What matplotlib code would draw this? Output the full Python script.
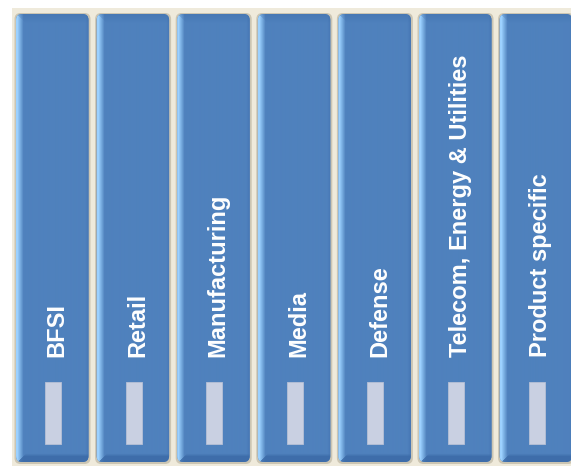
import numpy as np
import matplotlib
matplotlib.use('Agg')
import matplotlib.pyplot as plt
from matplotlib import font_manager
from matplotlib.font_manager import FontProperties
from matplotlib.patches import FancyBboxPatch, Rectangle

# segments shown on the panels, left to right
labels = ['BFSI', 'Retail', 'Manufacturing', 'Media', 'Defense',
          'Telecom, Energy & Utilities', 'Product specific']

W, H = 571, 467
x0, pitch, pw = 16, 80.6, 72.5
top, bottom = 14, 462

base = np.array([0x4F, 0x81, 0xBD]) / 255.
light = np.array([0x9C, 0xD2, 0xFF]) / 255.
dark = np.array([0x3A, 0x69, 0xA6]) / 255.

# condensed bold font if we have it
try:
    font_manager.findfont(FontProperties(family='Liberation Sans Narrow',
                                         weight='bold'),
                          fallback_to_default=False)
    fam, fsize = ['Liberation Sans Narrow', 'DejaVu Sans'], 21
except ValueError:
    fam, fsize = ['Liberation Sans', 'DejaVu Sans'], 17


def panel_image(w, h):
    xx = np.arange(w)[None, :, None] * np.ones((h, 1, 1))
    yy = np.arange(h)[:, None, None] * np.ones((1, w, 1))
    img = np.ones((h, w, 3)) * base
    # left highlight
    t = np.clip(1 - (xx - 1) / 6., 0, 1)
    img = img * (1 - t) + light * t
    # right edge slightly darker
    t = np.clip((xx - (w - 4)) / 4., 0, 1) * 0.5
    img = img * (1 - t) + dark * t
    # top bevel
    t = np.clip(1 - yy / 9., 0, 1) * 0.35 * (xx > yy)
    img = img * (1 - t) + dark * t
    # bottom bevel
    t = np.clip((yy - (h - 9)) / 3., 0, 1) * 0.8 * (xx > (h - yy))
    img = img * (1 - t) + dark * t
    return np.clip(img, 0, 1)


fig = plt.figure(figsize=(W / 100., H / 100.), dpi=100)
ax = fig.add_axes([0, 0, 1, 1])
ax.set_xlim(0, W)
ax.set_ylim(H, 0)
ax.axis('off')

ax.add_patch(Rectangle((12, 8), W - 12, 458, facecolor='#EFEADB',
                       edgecolor='none', zorder=0))

for i, lab in enumerate(labels):
    left = x0 + i * pitch
    # shadow
    sh = FancyBboxPatch((left - 1.5, top - 1), pw + 3.5, bottom - top + 3,
                        boxstyle='round,pad=0,rounding_size=6',
                        facecolor='#BDB6A2', edgecolor='none', alpha=0.7,
                        zorder=1)
    ax.add_patch(sh)
    box = FancyBboxPatch((left, top), pw, bottom - top,
                         boxstyle='round,pad=0,rounding_size=6',
                         facecolor=base, edgecolor='none', zorder=2)
    ax.add_patch(box)
    im = ax.imshow(panel_image(int(pw), int(bottom - top)),
                   extent=(left, left + pw, bottom, top),
                   interpolation='bilinear', zorder=3, aspect='auto')
    im.set_clip_path(box)
    # small gray bar
    ax.add_patch(Rectangle((left + 29, 382), 16, 62, facecolor='#C9D0E2',
                           edgecolor='#B7C0D6', lw=0.6, zorder=4))
    ax.text(left + 47.5, 357, lab, rotation=90, rotation_mode='anchor',
            ha='left', va='baseline', color='white', fontsize=fsize,
            fontweight='bold', family=fam, zorder=5)

ax.set_xlim(0, W)
ax.set_ylim(H, 0)
fig.savefig('out.png', dpi=100)
